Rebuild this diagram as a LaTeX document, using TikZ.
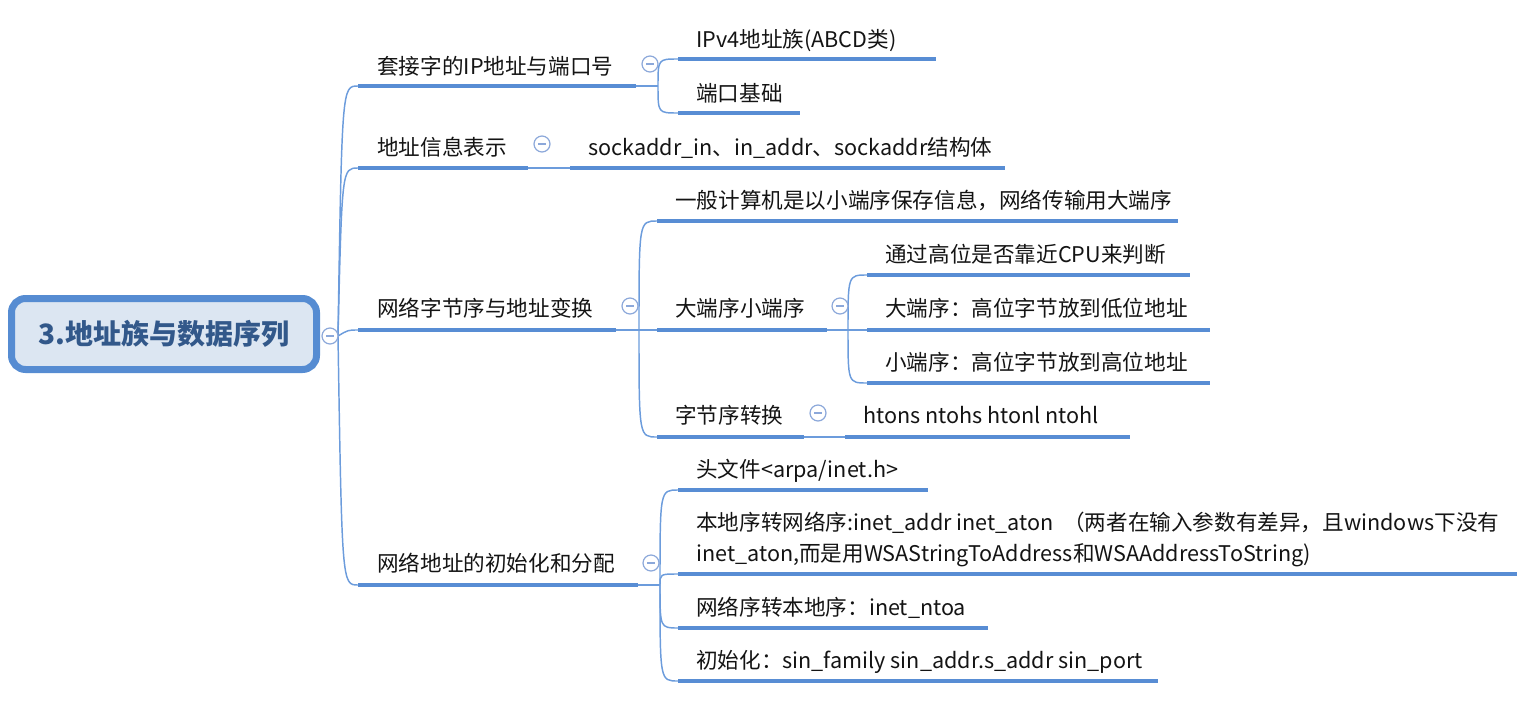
\documentclass[tikz,border=0pt]{standalone}
\usepackage{fontspec}
\setmainfont{Noto Sans CJK SC}
\definecolor{lineblue}{RGB}{88,141,212}
\definecolor{connblue}{RGB}{108,156,220}
\definecolor{rootfill}{RGB}{220,230,242}
\definecolor{rootdraw}{RGB}{86,140,210}
\definecolor{roottext}{RGB}{50,88,138}
\definecolor{foldc}{RGB}{140,168,218}
\definecolor{txt}{RGB}{20,20,20}
\begin{document}
\begin{tikzpicture}[x=0.75pt,y=-0.75pt,
  uline/.style={draw=lineblue,line width=3.6pt,line cap=butt},
  conn/.style={draw=connblue,line width=1.1pt},
  topic/.style={anchor=base west,inner sep=0pt,text=txt,font=\fontsize{16.2}{20}\selectfont},
  fold/.style={circle,draw=foldc,line width=0.9pt,fill=white,minimum size=12pt,inner sep=0pt,
    path picture={\draw[foldc,line width=0.9pt] ([xshift=3.2pt]path picture bounding box.west) -- ([xshift=-3.2pt]path picture bounding box.east);}},
  rootbox/.style={draw=rootdraw,fill=rootfill,line width=5.25pt,rounded corners=10.5pt,
    minimum width=228.75pt,minimum height=53.25pt,text=roottext,font=\fontsize{21}{25}\bfseries\selectfont}
]
\useasboundingbox (0,0) rectangle (1517,700);

% ---------- coordinates ----------
\coordinate (rj) at (338,336);
% level 1
\coordinate (t1a) at (358,86);  \coordinate (t1b) at (636,86);
\coordinate (t2a) at (358,168); \coordinate (t2b) at (528,168);
\coordinate (t3a) at (358,330); \coordinate (t3b) at (616,330);
\coordinate (t4a) at (358,585); \coordinate (t4b) at (638,585);
% topic 1 children
\coordinate (j1) at (658,86);
\coordinate (c11a) at (678,59);  \coordinate (c11b) at (936,59);
\coordinate (c12a) at (678,113); \coordinate (c12b) at (800,113);
% topic 2 child
\coordinate (c21a) at (570,168); \coordinate (c21b) at (1005,168);
% topic 3 children
\coordinate (j3) at (639,330);
\coordinate (c31a) at (657,221); \coordinate (c31b) at (1178,221);
\coordinate (c32a) at (657,330); \coordinate (c32b) at (827,330);
\coordinate (c33a) at (657,437); \coordinate (c33b) at (804,437);
\coordinate (j32) at (848,330);
\coordinate (c321a) at (867,275); \coordinate (c321b) at (1190,275);
\coordinate (c322a) at (867,330); \coordinate (c322b) at (1210,330);
\coordinate (c323a) at (867,383); \coordinate (c323b) at (1210,383);
\coordinate (c331a) at (845,437); \coordinate (c331b) at (1130,437);
% topic 4 children
\coordinate (j4) at (660,585);
\coordinate (c41a) at (678,490); \coordinate (c41b) at (928,490);
\coordinate (c42a) at (678,574); \coordinate (c42b) at (1517,574);
\coordinate (c43a) at (678,628); \coordinate (c43b) at (988,628);
\coordinate (c44a) at (678,681); \coordinate (c44b) at (1158,681);

% ---------- connectors ----------
\draw[conn] (rj) .. controls (342,86) .. (t1a);
\draw[conn] (rj) .. controls (342,168) .. (t2a);
\draw[conn] (rj) .. controls (348,330) .. (t3a);
\draw[conn] (rj) .. controls (342,585) .. (t4a);

\draw[conn] (t1b) -- (j1);
\draw[conn] (j1) .. controls (658,59) .. (c11a);
\draw[conn] (j1) .. controls (658,113) .. (c12a);

\draw[conn] (t2b) -- (c21a);

\draw[conn] (t3b) -- (j3);
\draw[conn] (j3) .. controls (639,221) .. (c31a);
\draw[conn] (j3) -- (c32a);
\draw[conn] (j3) .. controls (639,437) .. (c33a);

\draw[conn] (c32b) -- (j32);
\draw[conn] (j32) .. controls (848,275) .. (c321a);
\draw[conn] (j32) -- (c322a);
\draw[conn] (j32) .. controls (848,383) .. (c323a);

\draw[conn] (c33b) -- (c331a);

\draw[conn] (t4b) -- (j4);
\draw[conn] (j4) .. controls (660,490) .. (c41a);
\draw[conn] (j4) .. controls (660,574) .. (c42a);
\draw[conn] (j4) .. controls (660,628) .. (c43a);
\draw[conn] (j4) .. controls (660,681) .. (c44a);

% ---------- underlines ----------
\foreach \u in {t1,t2,t3,t4,c11,c12,c21,c31,c32,c33,c321,c322,c323,c331,c41,c42,c43,c44}
  \draw[uline] (\u a) -- (\u b);

% ---------- texts ----------
\node[topic] (n1) at (377,74) {套接字的IP地址与端口号};
\node[topic] (n11) at (696,47) {IPv4地址族(ABCD类)};
\node[topic] (n12) at (696,101) {端口基础};
\node[topic] (n2) at (377,155) {地址信息表示};
\node[topic] (n21) at (588,155) {sockaddr\_in、in\_addr、sockaddr结构体};
\node[topic] (n3) at (377,316) {网络字节序与地址变换};
\node[topic] (n31) at (675,208) {一般计算机是以小端序保存信息，网络传输用大端序};
\node[topic] (n32) at (675,316) {大端序小端序};
\node[topic] (n321) at (885,262) {通过高位是否靠近CPU来判断};
\node[topic] (n322) at (885,316) {大端序：高位字节放到低位地址};
\node[topic] (n323) at (885,370) {小端序：高位字节放到高位地址};
\node[topic] (n33) at (675,423) {字节序转换};
\node[topic] (n331) at (863,423) {htons ntohs htonl ntohl};
\node[topic] (n4) at (377,571) {网络地址的初始化和分配};
\node[topic] (n41) at (696,477) {头文件<arpa/inet.h>};
\node[topic,align=left,font=\fontsize{16.2}{23.25}\selectfont] (n42) at (696,561)
  {本地序转网络序:inet\_addr inet\_aton\ \ （两者在输入参数有差异，且windows下没有\\inet\_aton,而是用WSAStringToAddress和WSAAddressToString)};
\node[topic] (n43) at (696,615) {网络序转本地序：inet\_ntoa};
\node[topic] (n44) at (696,668) {初始化：sin\_family sin\_addr.s\_addr sin\_port};

% ---------- fold markers ----------
\node[fold] (f0) at (330,336) {};
\node[fold] (f1) at (650,64) {};
\node[fold] (f2) at (542,144) {};
\node[fold] (f3) at (630,306) {};
\node[fold] (f32) at (840,306) {};
\node[fold] (f33) at (818,413) {};
\node[fold] (f4) at (651,563) {};

% ---------- root ----------
\node[rootbox] (root) at (164,334) {3.地址族与数据序列};
\end{tikzpicture}
\end{document}
